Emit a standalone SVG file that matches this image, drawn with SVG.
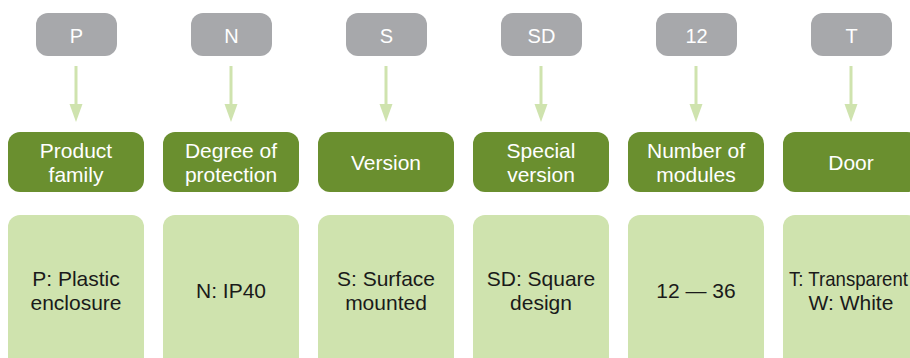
<svg xmlns="http://www.w3.org/2000/svg" width="910" height="358" viewBox="0 0 910 358">
<style>
.code rect{fill:#a7a8ab}
.code text{fill:#fff;font:20px "Liberation Sans",Arial,sans-serif;text-anchor:middle}
.cat rect{fill:#6a8f2f}
.cat text{fill:#fff;font:21px "Liberation Sans",Arial,sans-serif;text-anchor:middle}
.val rect{fill:#cfe3ae}
.val text{fill:#1a1a1a;font:21px "Liberation Sans",Arial,sans-serif;text-anchor:middle}
.conn line{stroke:#cfe3ae;stroke-width:3}
.conn path{fill:#cfe3ae}
</style>
<rect width="910" height="358" fill="#fff"/>
<g class="conn" id="connectors">
<line x1="76" y1="66" x2="76" y2="105"/><path d="M69.5 104 H82.5 L76 122 Z"/>
<line x1="231" y1="66" x2="231" y2="105"/><path d="M224.5 104 H237.5 L231 122 Z"/>
<line x1="386" y1="66" x2="386" y2="105"/><path d="M379.5 104 H392.5 L386 122 Z"/>
<line x1="541" y1="66" x2="541" y2="105"/><path d="M534.5 104 H547.5 L541 122 Z"/>
<line x1="696" y1="66" x2="696" y2="105"/><path d="M689.5 104 H702.5 L696 122 Z"/>
<line x1="851" y1="66" x2="851" y2="105"/><path d="M844.5 104 H857.5 L851 122 Z"/>
</g>
<g class="code" id="code-P"><rect x="36" y="13" width="81" height="43" rx="12"/><text x="76.5" y="43">P</text></g>
<g class="code" id="code-N"><rect x="191" y="13" width="81" height="43" rx="12"/><text x="231.5" y="43">N</text></g>
<g class="code" id="code-S"><rect x="346" y="13" width="81" height="43" rx="12"/><text x="386.5" y="43">S</text></g>
<g class="code" id="code-SD"><rect x="501" y="13" width="81" height="43" rx="12"/><text x="541.5" y="43">SD</text></g>
<g class="code" id="code-12"><rect x="656" y="13" width="81" height="43" rx="12"/><text x="696.5" y="43">12</text></g>
<g class="code" id="code-T"><rect x="811" y="13" width="81" height="43" rx="12"/><text x="851.5" y="43">T</text></g>

<g class="cat" id="cat-family"><rect x="8" y="132" width="136" height="60" rx="12"/><text x="76" y="158">Product</text><text x="76" y="182">family</text></g>
<g class="cat" id="cat-protection"><rect x="163" y="132" width="136" height="60" rx="12"/><text x="231" y="158">Degree of</text><text x="231" y="182">protection</text></g>
<g class="cat" id="cat-version"><rect x="318" y="132" width="136" height="60" rx="12"/><text x="386" y="170">Version</text></g>
<g class="cat" id="cat-special"><rect x="473" y="132" width="136" height="60" rx="12"/><text x="541" y="158">Special</text><text x="541" y="182">version</text></g>
<g class="cat" id="cat-modules"><rect x="628" y="132" width="136" height="60" rx="12"/><text x="696" y="158">Number of</text><text x="696" y="182">modules</text></g>
<g class="cat" id="cat-door"><rect x="783" y="132" width="136" height="60" rx="12"/><text x="851" y="170">Door</text></g>

<g class="val" id="val-family"><rect x="8" y="215" width="136" height="160" rx="12"/><text x="76" y="286">P: Plastic</text><text x="76" y="310">enclosure</text></g>
<g class="val" id="val-protection"><rect x="163" y="215" width="136" height="160" rx="12"/><text x="231" y="298">N: IP40</text></g>
<g class="val" id="val-version"><rect x="318" y="215" width="136" height="160" rx="12"/><text x="386" y="286">S: Surface</text><text x="386" y="310">mounted</text></g>
<g class="val" id="val-special"><rect x="473" y="215" width="136" height="160" rx="12"/><text x="541" y="286">SD: Square</text><text x="541" y="310">design</text></g>
<g class="val" id="val-modules"><rect x="628" y="215" width="136" height="160" rx="12"/><text x="696" y="298">12 — 36</text></g>
<g class="val" id="val-door"><rect x="783" y="215" width="136" height="160" rx="12"/><text x="789" y="286" style="text-anchor:start" textLength="119" lengthAdjust="spacingAndGlyphs">T: Transparent</text><text x="851" y="310">W: White</text></g>
</svg>
